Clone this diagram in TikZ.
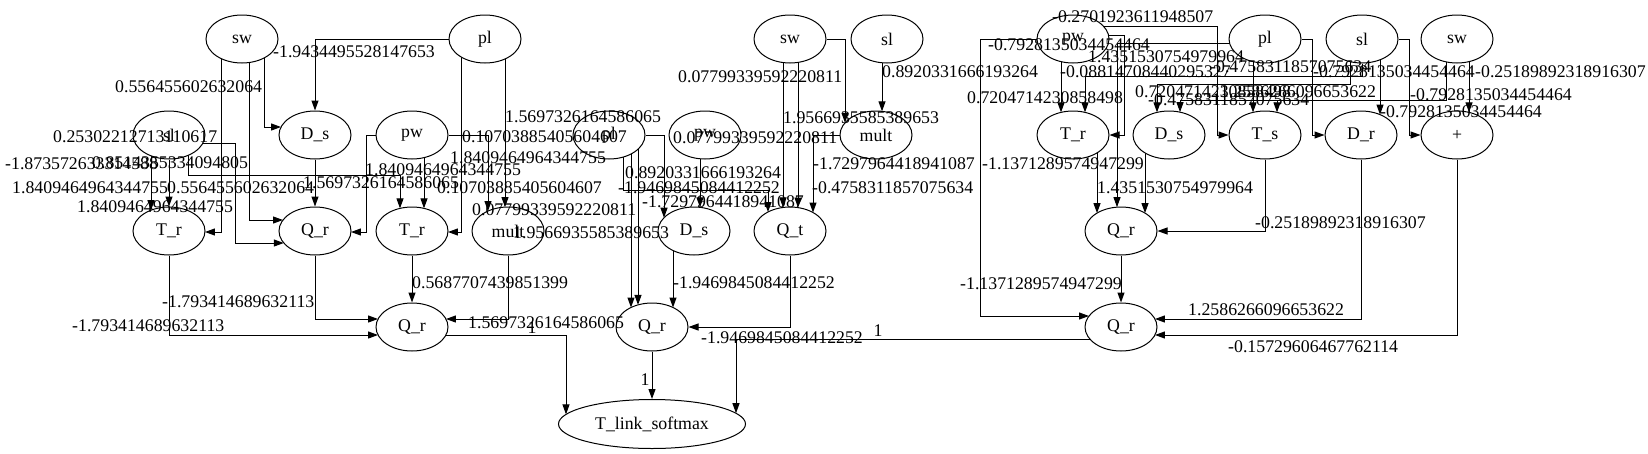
\documentclass[tikz,border=0pt]{standalone}
\usepackage{fontspec}
\setmainfont{Liberation Serif}
\usetikzlibrary{arrows.meta,calc,shapes.geometric}
\pgfdeclarelayer{edges}
\pgfsetlayers{edges,main}
\pgfmathdeclarefunction{ty}{1}{\pgfmathparse{24*sqrt(1-(#1/36)^2)}}
\pgfmathdeclarefunction{sx}{1}{\pgfmathparse{36*sqrt(1-(#1/24)^2)}}
\newcommand\lblfont{\fontsize{17.8}{20}\selectfont}
\begin{document}
\begin{tikzpicture}[x=1pt,y=-1pt,
  nd/.style={draw,line width=1pt,ellipse,minimum width=72pt,minimum height=48pt,inner sep=0pt,fill=white,font=\lblfont},
  edge/.style={line width=1pt,-{Triangle[length=10pt,width=7pt]}},
  lbl/.style={inner sep=0pt,anchor=west,font=\lblfont}]
\useasboundingbox (0,0) rectangle (1648,453);
% nodes
\node[nd] (swA) at (242,39) {sw};
\node[nd] (plA) at (485,39) {pl};
\node[nd] (slA) at (169,135) {sl};
\node[nd] (DsA) at (315,135) {D\_s};
\node[nd] (pwA) at (412,135) {pw};
\node[nd] (TrA) at (169,231) {T\_r};
\node[nd] (QrA) at (315,231) {Q\_r};
\node[nd] (TrB) at (412,231) {T\_r};
\node[nd] (multA) at (508,231) {mult};
\node[nd] (QrB) at (412,327) {Q\_r};
\node[nd] (swM) at (790,39) {sw};
\node[nd] (slM) at (887,39) {sl};
\node[nd] (plM) at (609,135) {pl};
\node[nd] (pwM) at (705,135) {pw};
\node[nd] (multM) at (876,135) {mult};
\node[nd] (DsM) at (694,231) {D\_s};
\node[nd] (QtM) at (790,231) {Q\_t};
\node[nd] (QrM) at (652,327) {Q\_r};
\node[nd,minimum width=187pt,minimum height=49pt] (soft) at (652,424) {T\_link\_softmax};
\node[nd] (pwR) at (1073,39) {pw};
\node[nd] (plR) at (1265,39) {pl};
\node[nd] (slR) at (1362,39) {sl};
\node[nd] (swR) at (1457,39) {sw};
\node[nd] (TrR) at (1073,135) {T\_r};
\node[nd] (DsR) at (1169,135) {D\_s};
\node[nd] (TsR) at (1265,135) {T\_s};
\node[nd] (DrR) at (1361,135) {D\_r};
\node[nd] (plusR) at (1457,135) {+};
\node[nd] (QrR) at (1121,231) {Q\_r};
\node[nd] (QrS) at (1121,327) {Q\_r};
\begin{pgfonlayer}{edges}
\fill[white] (0,0) rectangle (1648,453);
% left cluster
\draw[edge] ($(swA)+(22,0)$) |- ($(DsA)+({-sx(-8)},-8)$);
\draw[edge] (plA) -| (DsA.north);
\draw[edge] ($(swA)+(-21,0)$) |- ($(TrA)+({sx(1)},1)$);
\draw[edge] ($(swA)+(7,0)$) |- ($(QrA)+({-sx(-11)},-11)$);
\draw[edge] ($(slA)+(-18,0)$) -- ($(TrA)+(-18,{-ty(-18)})$);
\draw[edge] (slA) -- (TrA.north);
\draw[edge] ($(slA)+(0,8)$) -- ++(66,0) |- ($(QrA)+({-sx(12)},12)$);
\draw[edge] ($(slA)+(19,0)$) -- ++(0,40) -| ($(TrB)+(-12,{-ty(-12)})$);
\draw[edge] (DsA) -- (QrA.north);
\draw[edge] (pwA) -- ++(-46,0) |- ($(QrA)+({sx(1)},1)$);
\draw[edge] ($(pwA)+(12,0)$) -- ($(TrB)+(12,{-ty(12)})$);
\draw[edge] (pwA) -| ($(multA)+(-20,{-ty(-20)})$);
\draw[edge] ($(plA)+(20,0)$) -- ($(multA)+(-3,{-ty(-3)})$);
\draw[edge] ($(plA)+(-24,0)$) |- ($(TrB)+({sx(1)},1)$);
\draw[edge] (TrB) -- (QrB.north);
\draw[edge] (multA) |- ($(QrB)+({sx(-8)},-8)$);
\draw[edge] (QrA) |- ($(QrB)+({-sx(-8)},-8)$);
\draw[edge] (TrA) |- ($(QrB)+({-sx(8)},8)$);
\draw[edge] ($(QrB)+(0,8)$) -| ($(soft)+(-86,{-24.5*sqrt(1-(86/93.5)^2)})$);
% middle cluster
\draw[edge] ($(swM)+(-7,0)$) -- ($(QtM)+(-7,{-ty(-7)})$);
\draw[edge] ($(swM)+(8,0)$) -- ($(QtM)+(8,{-ty(8)})$);
\draw[edge] (swM) -| ($(multM)+(-31,{-ty(-31)})$);
\draw[edge] ($(slM)+(-5,0)$) -- ($(multM)+(6,{-ty(6)})$);
\draw[edge] (multM) -| ($(QtM)+(23,{-ty(23)})$);
\draw[edge] ($(pwM)+(-5,0)$) -- ($(DsM)+(6,{-ty(6)})$);
\draw[edge] (plM) -| ($(DsM)+(-30,{-ty(-30)})$);
\draw[edge] ($(plM)+(14,0)$) -- ++(0,55) -| ($(QtM)+(-22,{-ty(-22)})$);
\draw[edge] ($(plM)+(22,0)$) -- ($(QrM)+(-21,{-ty(-21)})$);
\draw[edge] ($(plM)+(29,0)$) -- ($(QrM)+(-14,{-ty(-14)})$);
\draw[edge] ($(DsM)+(-21,0)$) -- ($(QrM)+(21,{-ty(21)})$);
\draw[edge] (QtM) |- (QrM.east);
\draw[edge] (QrM) -- (soft.north);
\draw[edge] ($(QrS)+(0,12)$) -| ($(soft)+(84,{-24.5*sqrt(1-(84/93.5)^2)})$);
% right cluster
\draw[edge] (pwR) -- ++(-93,0) |- ($(QrS)+({-sx(-11)},-11)$);
\draw[edge] ($(pwR)+(-12,0)$) -- ($(TrR)+(-12,{-ty(-12)})$);
\draw[edge] ($(pwR)+(0,-13)$) -- ++(144,0) |- (TsR.west);
\draw[edge] ($(pwR)+(0,-4)$) -- ++(51,0) |- (TrR.east);
\draw[edge] ($(plR)+(0,4)$) -| ($(QrR)+(-4,{-ty(-4)})$);
\draw[edge] (slR) -- ++(0,37) -| ($(TrR)+(12,{-ty(12)})$);
\draw[edge] ($(slR)+(-12,0)$) -- ++(0,45) -| ($(DsR)+(-12,{-ty(-12)})$);
\draw[edge] ($(slR)+(18,0)$) -- ($(DrR)+(19,{-ty(19)})$);
\draw[edge] (slR) -- ++(47,0) |- (plusR.west);
\draw[edge] (plR) -- ++(47,0) |- (DrR.west);
\draw[edge] ($(plR)+(-12,0)$) -- ($(TsR)+(-12,{-ty(-12)})$);
\draw[edge] ($(swR)+(12,0)$) -- ($(plusR)+(12,{-ty(12)})$);
\draw[edge] ($(swR)+(-11,0)$) -- ++(0,61) -| ($(DsR)+(11,{-ty(11)})$);
\draw[edge] ($(swR)+(-11,0)$) -- ++(0,61) -| ($(TsR)+(12,{-ty(12)})$);
\draw[edge] ($(TrR)+(24,0)$) -- ($(QrR)+(-24,{-ty(-24)})$);
\draw[edge] ($(DsR)+(-24,0)$) -- ($(QrR)+(24,{-ty(24)})$);
\draw[edge] (TsR) |- (QrR.east);
\draw[edge] (QrR) -- (QrS.north);
\draw[edge] (DrR) |- ($(QrS)+({sx(-8)},-8)$);
\draw[edge] (plusR) |- ($(QrS)+({sx(8)},8)$);
\end{pgfonlayer}
% labels
\node[lbl] (l1) at (115,87) {0.556455602632064};
\node[lbl] (l2) at (273,52) {-1.9434495528147653};
\node[lbl] (l3) at (53,137) {0.25302212713110617};
\node[lbl] (l4) at (5,164) {-1.873572633314588};
\node[lbl] (l5) at (92,163) {0.8514355334094805};
\node[lbl] (l6) at (12,188) {1.8409464964344755};
\node[lbl] (l7) at (167,188) {0.556455602632064};
\node[lbl] (l8) at (77,207) {1.8409464964344755};
\node[lbl] (l9) at (303,183) {1.5697326164586065};
\node[lbl] (l10) at (365,170) {1.8409464964344755};
\node[lbl] (l11) at (437,188) {0.10703885405604607};
\node[lbl] (l12) at (505,117) {1.5697326164586065};
\node[lbl] (l13) at (462,137) {0.10703885405604607};
\node[lbl] (l14) at (450,158) {1.8409464964344755};
\node[lbl] (l15) at (472,210) {0.07799339592220811};
\node[lbl] (l16) at (513,233) {1.9566935585389653};
\node[lbl] (l17) at (412,283) {0.5687707439851399};
\node[lbl] (l18) at (468,323) {1.5697326164586065};
\node[lbl,anchor=center] (l19) at (532,328) {1};
\node[lbl] (l20) at (162,302) {-1.793414689632113};
\node[lbl] (l21) at (72,326) {-1.793414689632113};
\node[lbl] (l22) at (678,77) {0.07799339592220811};
\node[lbl] (l23) at (882,72) {0.8920331666193264};
\node[lbl] (l24) at (783,118) {1.9566935585389653};
\node[lbl] (l25) at (673,138) {0.07799339592220811};
\node[lbl] (l26) at (813,164) {-1.7297964418941087};
\node[lbl] (l27) at (812,188) {-0.4758311857075634};
\node[lbl] (l28) at (625,173) {0.8920331666193264};
\node[lbl] (l29) at (618,188) {-1.9469845084412252};
\node[lbl] (l30) at (642,202) {-1.7297964418941087};
\node[lbl] (l31) at (673,283) {-1.9469845084412252};
\node[lbl] (l32) at (701,338) {-1.9469845084412252};
\node[lbl,anchor=center] (l33) at (878,331) {1};
\node[lbl,anchor=center] (l34) at (645,380) {1};
\node[lbl] (l35) at (1052,17) {-0.2701923611948507};
\node[lbl] (l36) at (988,45) {-0.7928135034454464};
\node[lbl] (l37) at (1088,57) {1.4351530754979964};
\node[lbl] (l38) at (1060,72) {-0.08814708440295327};
\node[lbl] (l39) at (967,98) {0.7204714230858498};
\node[lbl] (l40) at (1210,67) {-0.4758311857075634};
\node[lbl] (l41) at (1313,72) {-0.7928135034454464};
\node[lbl] (l42) at (1475,72) {-0.25189892318916307};
\node[lbl] (l43) at (1135,92) {0.7204714230858498};
\node[lbl] (l44) at (1220,92) {1.2586266096653622};
\node[lbl] (l45) at (1148,100) {-0.4758311857075634};
\node[lbl] (l46) at (1410,95) {-0.7928135034454464};
\node[lbl] (l47) at (1380,112) {-0.7928135034454464};
\node[lbl] (l48) at (982,164) {-1.1371289574947299};
\node[lbl] (l49) at (1097,188) {1.4351530754979964};
\node[lbl] (l50) at (1255,223) {-0.25189892318916307};
\node[lbl] (l51) at (960,284) {-1.1371289574947299};
\node[lbl] (l52) at (1188,310) {1.2586266096653622};
\node[lbl] (l53) at (1228,347) {-0.15729606467762114};
\end{tikzpicture}
\end{document}
